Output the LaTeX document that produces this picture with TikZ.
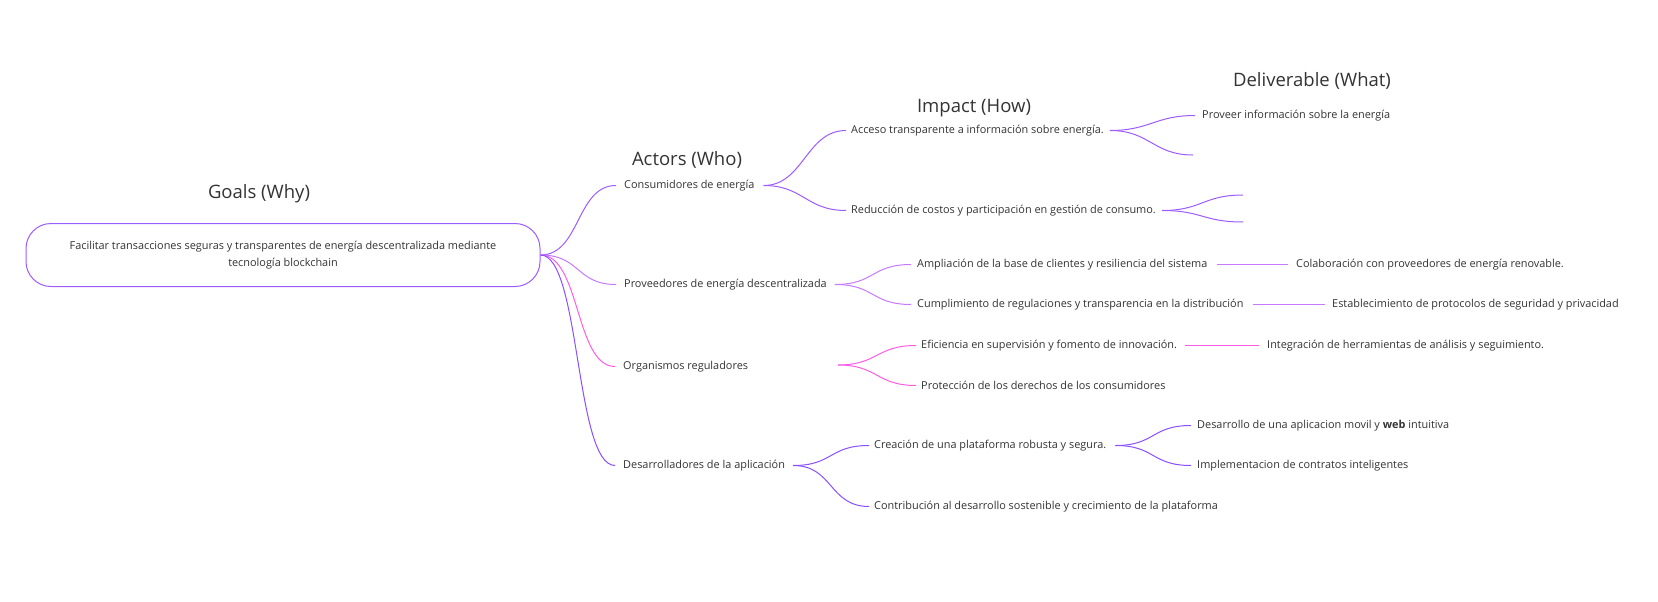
\documentclass[tikz,border=0pt]{standalone}
\usepackage{fontspec}
\setmainfont{Open Sans}
\usepackage{tikz}
\definecolor{inkgray}{HTML}{333333}
\definecolor{consviolet}{HTML}{9E5CFF}
\definecolor{provlilac}{HTML}{C77AFF}
\definecolor{orgpink}{HTML}{FF5CE6}
\definecolor{devviolet}{HTML}{8A50FF}
\tikzstyle{head} = [font=\fontsize{18.5}{22}\selectfont, text=inkgray, inner sep=0pt]
\tikzstyle{leaf} = [font=\fontsize{10.9}{13}\selectfont, text=inkgray, anchor=west, inner sep=0pt]
\tikzstyle{goalbox} = [draw=consviolet, line width=1pt, rounded corners=25pt, minimum width=514pt, minimum height=63pt, align=center, font=\fontsize{10.9}{17}\selectfont, text=inkgray]
\tikzstyle{fork} = [out=0, in=180, distance=40pt]
\tikzstyle{wire} = [line width=1pt]

\begin{document}
\begin{tikzpicture}[x=1pt, y=-1pt]
            \useasboundingbox (0,0) rectangle (1658,602);
                \node[head] (whyhead) at (259,194) {Goals (Why)};
                \node[head] (whohead) at (687,160) {Actors (Who)};
                \node[head] (howhead) at (974,108) {Impact (How)};
                \node[head] (whathead) at (1312,81) {Deliverable (What)};
                \node[goalbox] (goal) at (283,255) {Facilitar transacciones seguras y transparentes de energía descentralizada mediante\\tecnología blockchain};
                \node[leaf] (cons) at (624,185.5) {Consumidores de energía};
                \node[leaf] (prov) at (624,284.5) {Proveedores de energía descentralizada};
                \node[leaf] (org) at (623,366.5) {Organismos reguladores};
                \node[leaf] (dev) at (623,465.5) {Desarrolladores de la aplicación};
                \node[leaf] (acc) at (851,130.5) {Acceso transparente a información sobre energía.};
                \node[leaf] (red) at (851,210.5) {Reducción de costos y participación en gestión de consumo.};
                \node[leaf] (amp) at (917,264.5) {Ampliación de la base de clientes y resiliencia del sistema};
                \node[leaf] (cum) at (917,304.5) {Cumplimiento de regulaciones y transparencia en la distribución};
                \node[leaf] (efi) at (921,345.5) {Eficiencia en supervisión y fomento de innovación.};
                \node[leaf] (pro) at (921,385.5) {Protección de los derechos de los consumidores};
                \node[leaf] (cre) at (874,445.5) {Creación de una plataforma robusta y segura.};
                \node[leaf] (con) at (874,506.5) {Contribución al desarrollo sostenible y crecimiento de la plataforma};
                \node[leaf] (prv) at (1202,115.5) {Proveer información sobre la energía};
                \node[leaf] (col) at (1296,264.5) {Colaboración con proveedores de energía renovable.};
                \node[leaf] (est) at (1332,304.5) {Establecimiento de protocolos de seguridad y privacidad};
                \node[leaf] (intg) at (1267,345.5) {Integración de herramientas de análisis y seguimiento.};
                \node[leaf] (dsa) at (1197,425.5) {Desarrollo de una aplicacion movil y \textbf{web} intuitiva};
                \node[leaf] (impl) at (1197,465.5) {Implementacion de contratos inteligentes};
                \coordinate (orgfork) at (838,365);
                \coordinate (accend) at (1193,155);
                \coordinate (redup) at (1243,195);
                \coordinate (reddown) at (1243,222);
                \draw[wire, consviolet] (goal.east) to[fork] ([xshift=-8pt]cons.west);
                \draw[wire, provlilac] (goal.east) to[fork] ([xshift=-8pt]prov.west);
                \draw[wire, orgpink] (goal.east) to[fork] ([xshift=-8pt]org.west);
                \draw[wire, devviolet] (goal.east) to[fork] ([xshift=-8pt]dev.west);
                \draw[wire, consviolet] ([xshift=9pt]cons.east) to[fork] ([xshift=-5pt]acc.west);
                \draw[wire, consviolet] ([xshift=9pt]cons.east) to[fork] ([xshift=-5pt]red.west);
                \draw[wire, consviolet] ([xshift=6pt]acc.east) to[fork] ([xshift=-7pt]prv.west);
                \draw[wire, consviolet] ([xshift=6pt]acc.east) to[fork] (accend);
                \draw[wire, consviolet] ([xshift=6pt]red.east) to[fork] (redup);
                \draw[wire, consviolet] ([xshift=6pt]red.east) to[fork] (reddown);
                \draw[wire, provlilac] ([xshift=8pt]prov.east) to[fork] ([xshift=-6pt]amp.west);
                \draw[wire, provlilac] ([xshift=8pt]prov.east) to[fork] ([xshift=-6pt]cum.west);
                \draw[wire, provlilac] ([xshift=9pt]amp.east) -- ([xshift=-8pt]col.west);
                \draw[wire, provlilac] ([xshift=9pt]cum.east) -- ([xshift=-7pt]est.west);
                \draw[wire, orgpink] (orgfork) to[fork] ([xshift=-5pt]efi.west);
                \draw[wire, orgpink] (orgfork) to[fork] ([xshift=-5pt]pro.west);
                \draw[wire, orgpink] ([xshift=8pt]efi.east) -- ([xshift=-8pt]intg.west);
                \draw[wire, devviolet] ([xshift=8pt]dev.east) to[fork] ([xshift=-5pt]cre.west);
                \draw[wire, devviolet] ([xshift=8pt]dev.east) to[fork] ([xshift=-5pt]con.west);
                \draw[wire, devviolet] ([xshift=9pt]cre.east) to[fork] ([xshift=-6pt]dsa.west);
                \draw[wire, devviolet] ([xshift=9pt]cre.east) to[fork] ([xshift=-6pt]impl.west);
            \end{tikzpicture}
\end{document}
